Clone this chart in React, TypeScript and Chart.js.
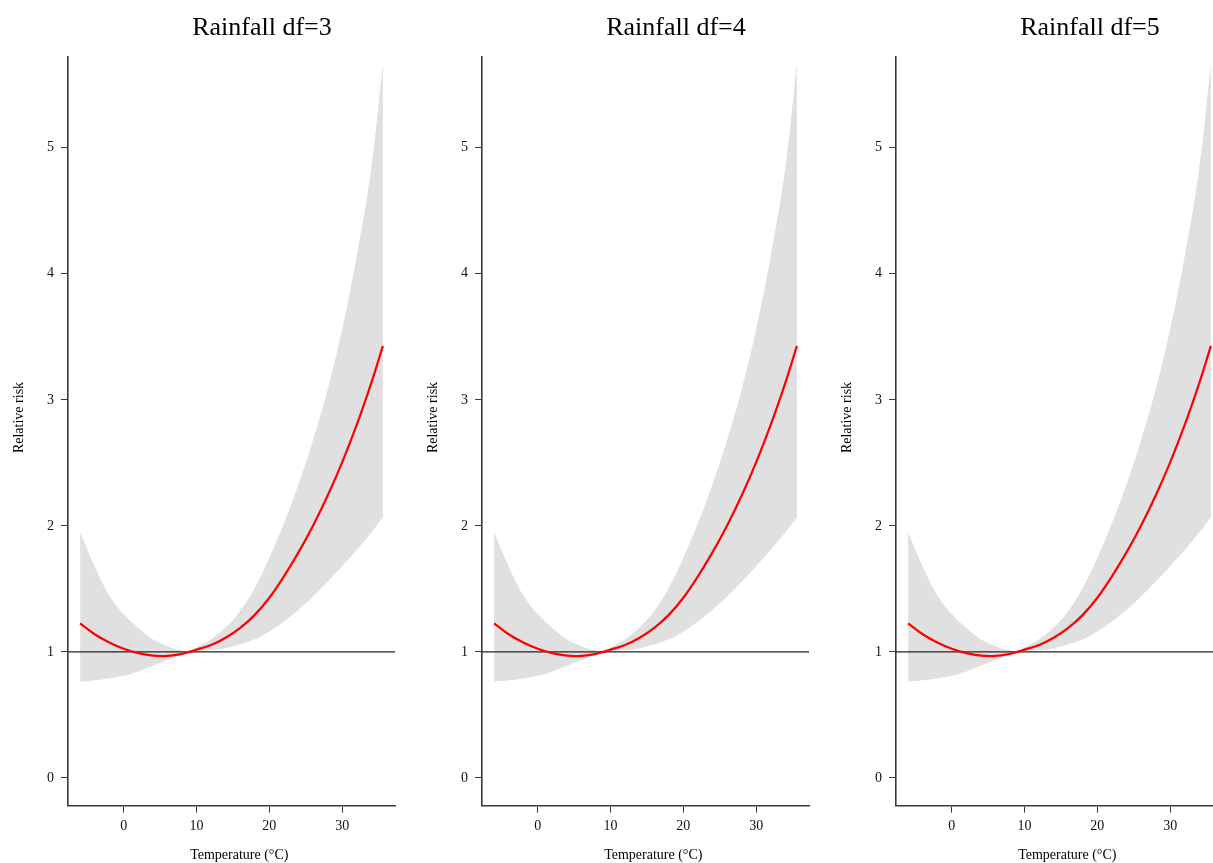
import React, { useEffect, useRef } from 'react';
import { Chart, registerables } from 'chart.js';

Chart.register(...registerables);

// ---- data ----
const panelTitles = ['Rainfall df=3', 'Rainfall df=4', 'Rainfall df=5'];
const temps = [-6, -4, -2, 0, 2, 4, 6, 8, 9, 10, 12, 14, 16, 18, 20, 22, 24, 26, 28, 30, 32, 34, 35.6];
const rr = [1.227, 1.14, 1.075, 1.025, 0.99, 0.97, 0.968, 0.985, 1.0, 1.018, 1.055, 1.112, 1.19, 1.294, 1.43, 1.6, 1.79, 2.002, 2.239, 2.504, 2.801, 3.133, 3.428];
const rrUpper = [1.95, 1.68, 1.45, 1.3, 1.19, 1.1, 1.045, 1.01, 1.0, 1.035, 1.1, 1.195, 1.325, 1.51, 1.745, 2.02, 2.33, 2.68, 3.08, 3.56, 4.14, 4.84, 5.67];
const rrLower = [0.764, 0.775, 0.79, 0.81, 0.845, 0.89, 0.935, 0.98, 1.0, 1.005, 1.015, 1.03, 1.06, 1.1, 1.163, 1.242, 1.335, 1.44, 1.557, 1.68, 1.81, 1.948, 2.067];
const xTicks = [0, 10, 20, 30];
const yTicks = [0, 1, 2, 3, 4, 5];
const xLimits = [-7.66, 37.26];
const yLimits = [-0.22, 5.72];
const refRisk = 1;
const xTitle = 'Temperature (°C)';
const yTitle = 'Relative risk';

const SERIF = '"Liberation Serif", "Times New Roman", serif';
const AXIS_COLOR = '#3a3a3a';

const labelPlugin = {
  id: 'panelLabels',
  afterDraw(chart: any, _args: any, opts: any) {
    const { ctx, chartArea } = chart;
    ctx.save();
    ctx.fillStyle = '#000';
    ctx.textAlign = 'center';
    ctx.textBaseline = 'alphabetic';
    ctx.font = `26px ${SERIF}`;
    ctx.fillText(opts.title, chartArea.left + 194, 34.5);
    ctx.font = `14px ${SERIF}`;
    ctx.fillText(opts.xTitle, chartArea.left + 171.3, 859);
    ctx.translate(chartArea.left - 45, 417.5);
    ctx.rotate(-Math.PI / 2);
    ctx.fillText(opts.yTitle, 0, 0);
    ctx.restore();
  },
};

function Panel({ title, index }: { title: string; index: number }) {
  const ref = useRef<HTMLCanvasElement | null>(null);
  useEffect(() => {
    if (!ref.current) return;
    const pts = (ys: number[]) => temps.map((t, i) => ({ x: t, y: ys[i] }));
    const axisCommon = {
      grid: { drawOnChartArea: false, drawTicks: true, tickLength: 7, color: AXIS_COLOR, lineWidth: 1 },
      border: { display: true, color: AXIS_COLOR, width: 1.6 },
    };
    const chart = new Chart(ref.current, {
      type: 'line',
      data: {
        datasets: [
          {
            label: 'RR',
            data: pts(rr),
            borderColor: '#ff0000',
            borderWidth: 2.2,
            pointRadius: 0,
            fill: false,
            tension: 0.4,
          },
          {
            label: 'reference',
            data: xLimits.map((x) => ({ x, y: refRisk })),
            borderColor: '#222',
            borderWidth: 1.2,
            pointRadius: 0,
            fill: false,
          },
          {
            label: 'upper',
            data: pts(rrUpper),
            borderWidth: 0,
            borderColor: 'rgba(0,0,0,0)',
            backgroundColor: 'rgb(224,224,224)',
            pointRadius: 0,
            fill: '+1',
            tension: 0.4,
          },
          {
            label: 'lower',
            data: pts(rrLower),
            borderWidth: 0,
            borderColor: 'rgba(0,0,0,0)',
            backgroundColor: 'rgb(224,224,224)',
            pointRadius: 0,
            fill: false,
            tension: 0.4,
          },
        ],
      } as any,
      options: {
        responsive: false,
        animation: false,
        events: [],
        layout: { padding: { top: 57, right: 19, left: 0, bottom: 0 } },
        plugins: {
          legend: { display: false },
          tooltip: { enabled: false },
          panelLabels: { title, xTitle, yTitle },
        } as any,
        scales: {
          x: {
            type: 'linear',
            min: xLimits[0],
            max: xLimits[1],
            afterBuildTicks: (s: any) => {
              s.ticks = xTicks.map((v) => ({ value: v }));
            },
            afterFit: (s: any) => {
              s.height = 57.3;
            },
            ...axisCommon,
            ticks: { color: '#111', font: { family: SERIF, size: 14 }, padding: 5, maxRotation: 0, autoSkip: false },
          },
          y: {
            type: 'linear',
            min: yLimits[0],
            max: yLimits[1],
            afterBuildTicks: (s: any) => {
              s.ticks = yTicks.map((v) => ({ value: v }));
            },
            afterFit: (s: any) => {
              s.width = 68;
            },
            ...axisCommon,
            ticks: { color: '#111', font: { family: SERIF, size: 14 }, padding: 7, autoSkip: false },
          },
        } as any,
      },
      plugins: [labelPlugin],
    } as any);
    return () => chart.destroy();
  }, [title]);
  return (
    <canvas
      ref={ref}
      width={414}
      height={863}
      style={{ position: 'absolute', top: 0, left: index * 414, display: 'block' }}
    />
  );
}

export default function App() {
  return (
    <div
      style={{
        position: 'fixed',
        left: 0,
        top: 0,
        width: 1213,
        height: 863,
        overflow: 'hidden',
        background: '#fff',
      }}
    >
      {panelTitles.map((t, i) => (
        <Panel key={t} title={t} index={i} />
      ))}
    </div>
  );
}
